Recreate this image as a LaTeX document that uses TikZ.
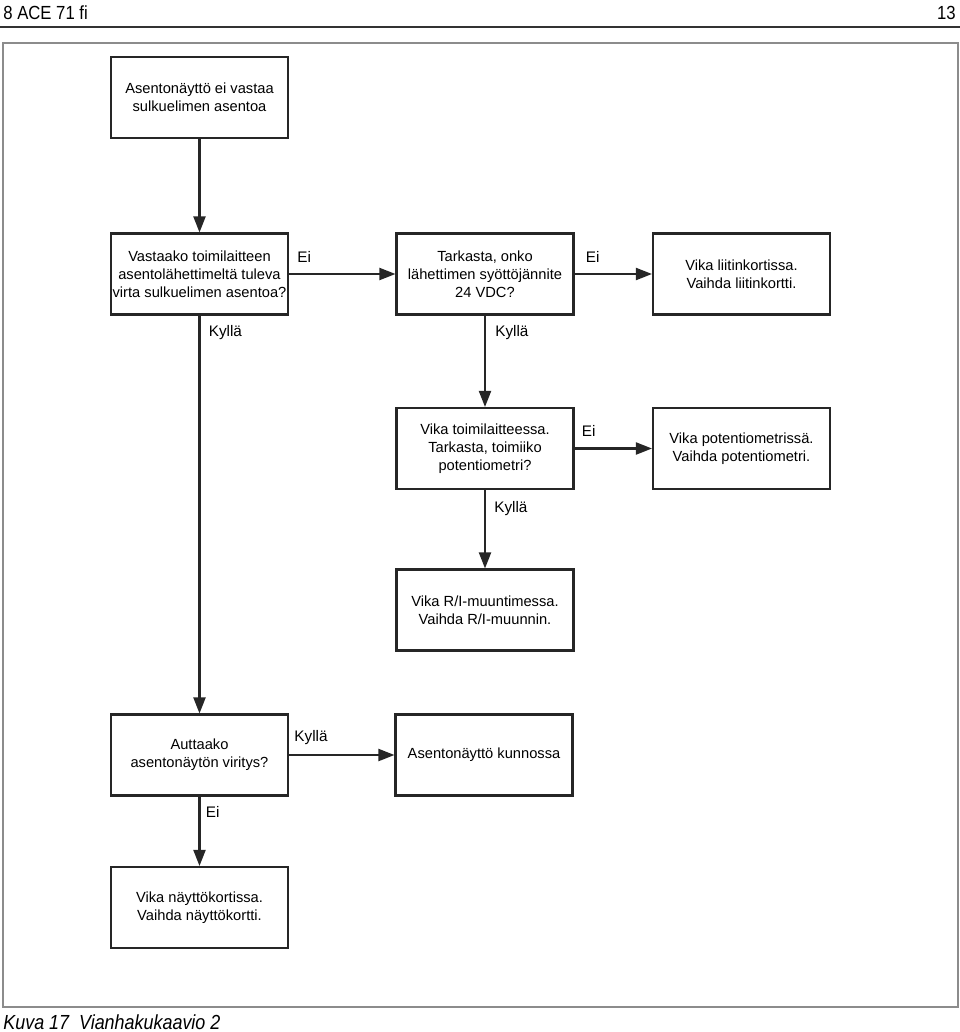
\documentclass[tikz,border=0pt]{standalone}
\usepackage{fontspec}
\setmainfont{Liberation Sans}
\newfontfamily\narrowfont[FakeStretch=0.88]{Liberation Sans}
\usepackage{tikz}
\usetikzlibrary{calc, positioning, arrows.meta}
\tikzstyle{box}=[draw=black!85, line width=1.2pt, shape=rectangle, minimum width=3.54cm, minimum height=1.62cm, inner sep=0pt, align=center, font=\fontsize{8.35}{10.2}\selectfont]
\tikzstyle{lbl}=[inner sep=0pt, anchor=west, font=\fontsize{8.7}{10.2}\selectfont]
\tikzstyle{arr}=[->, draw=black!85, line width=1.2pt]
\tikzstyle{pagetext}=[inner sep=0pt, font=\narrowfont\fontsize{10.8}{12}\selectfont]
\tikzset{>={Triangle[length=3.2mm, width=2.4mm]}}

\begin{document}
\begin{tikzpicture}
\useasboundingbox (0,0) rectangle (19.2,-20.64);
% the page header, rule and frame
\node[pagetext, anchor=west] (head) at (0.06,-0.25) {8 ACE 71 fi};
\node[pagetext, anchor=east] (page) at (19.12,-0.25) {13};
\draw[black!80, line width=0.9pt] (0,-0.54) -- (19.2,-0.54);
\draw[black!45, line width=0.6pt] (0.06,-0.86) rectangle (19.16,-20.14);
\node[pagetext, anchor=west, font=\narrowfont\itshape\fontsize{11.6}{13}\selectfont] (caption) at (0.06,-20.44) {Kuva 17\ \ Vianhakukaavio 2};
% the questions
\node[box] (start) at (3.99,-1.95) {Asentonäyttö ei vastaa\\sulkuelimen asentoa};
\node[box] (q1) at (3.99,-5.48) {Vastaako toimilaitteen\\asentolähettimeltä tuleva\\virta sulkuelimen asentoa?};
\node[box] (q2) at (9.70,-5.48) {Tarkasta, onko\\lähettimen syöttöjännite\\24 VDC?};
\node[box] (q3) at (9.70,-8.97) {Vika toimilaitteessa.\\Tarkasta, toimiiko\\potentiometri?};
\node[box] (q4) at (3.99,-15.1) {Auttaako\\asentonäytön viritys?};
% the faults
\node[box] (f1) at (14.83,-5.48) {Vika liitinkortissa.\\Vaihda liitinkortti.};
\node[box] (f2) at (14.83,-8.97) {Vika potentiometrissä.\\Vaihda potentiometri.};
\node[box] (f3) at (9.70,-12.2) {Vika R/I-muuntimessa.\\Vaihda R/I-muunnin.};
\node[box] (ok) at (9.68,-15.1) {Asentonäyttö kunnossa};
\node[box] (f4) at (3.99,-18.15) {Vika näyttökortissa.\\Vaihda näyttökortti.};
% the arrows
\draw[arr] (start) -- (q1);
\draw[arr] (q1) -- (q2);
\draw[arr] (q2) -- (f1);
\draw[arr] (q2) -- (q3);
\draw[arr] (q3) -- (f2);
\draw[arr] (q3) -- (f3);
\draw[arr] (q1) -- (q4);
\draw[arr] (q4) -- (ok);
\draw[arr] (q4) -- (f4);
% the answers
\node[lbl] (ei1) at ([xshift=1.6mm, yshift=3.4mm]q1.east) {Ei};
\node[lbl] (ei2) at ([xshift=2.2mm, yshift=3.4mm]q2.east) {Ei};
\node[lbl] (ei3) at ([xshift=1.4mm, yshift=3.5mm]q3.east) {Ei};
\node[lbl] (ky4) at ([xshift=1mm, yshift=3.4mm]q4.east) {Kyllä};
\node[lbl] (ky1) at ([xshift=1.8mm, yshift=-3.4mm]q1.south) {Kyllä};
\node[lbl] (ky2) at ([xshift=2mm, yshift=-3.4mm]q2.south) {Kyllä};
\node[lbl] (ky3) at ([xshift=1.8mm, yshift=-3.7mm]q3.south) {Kyllä};
\node[lbl] (ei4) at ([xshift=1.2mm, yshift=-3mm]q4.south) {Ei};
\end{tikzpicture}
\end{document}
